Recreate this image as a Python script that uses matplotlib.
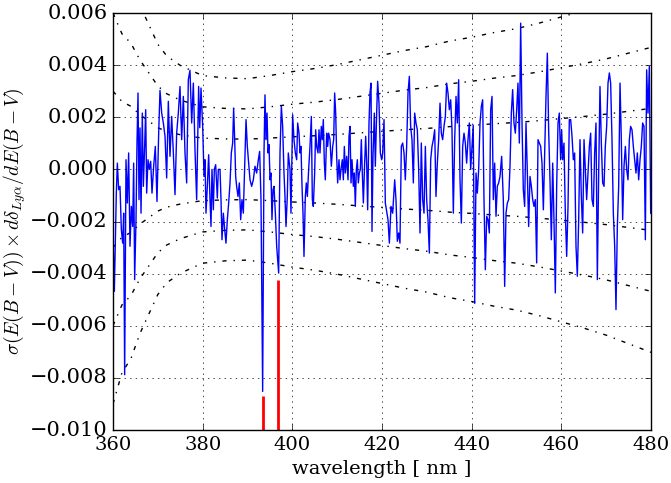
import numpy as np
import matplotlib
matplotlib.use('Agg')
import matplotlib.pyplot as plt

plt.style.use('classic')
plt.rcParams['font.family'] = ['DejaVu Serif']
plt.rcParams['font.size'] = 14

# envelope sigma (in 1e-3), drawn as +-1, 2, 3 sigma
sig_wl = [360, 361, 362, 364, 366, 368, 370, 372, 375, 378, 380, 385, 390, 395,
          400, 405, 410, 415, 420, 425, 430, 435, 440, 445, 450, 455, 460, 465,
          470, 475, 480]
sig_val = [3.00, 2.80, 2.60, 2.42, 2.10, 1.85, 1.60, 1.45, 1.33, 1.25, 1.20, 1.17,
           1.16, 1.20, 1.25, 1.29, 1.34, 1.40, 1.46, 1.52, 1.57, 1.64, 1.69, 1.75,
           1.80, 1.87, 1.95, 2.03, 2.12, 2.23, 2.34]

# sigma(E(B-V)) x d delta / dE(B-V) (in 1e-3)
wl = [360.07, 360.3, 360.74, 360.97, 361.26, 361.56, 361.86, 362.16, 362.38, 362.6,
      362.9, 363.2, 363.49, 363.79, 364.09, 364.39, 364.61, 364.83, 365.13, 365.35,
      365.58, 365.8, 366.02, 366.25, 366.54, 366.77, 367.06, 367.29, 367.51, 367.81,
      368.1, 368.4, 368.7, 369.07, 369.44, 369.81, 370.19, 370.48, 370.86, 371.23,
      371.6, 371.97, 372.34, 372.71, 373.09, 373.46, 373.83, 374.2, 374.57, 374.94,
      375.32, 375.69, 376.06, 376.43, 376.8, 377.17, 377.55, 377.92, 378.29, 378.66,
      379.1, 379.35, 379.63,
      380.0, 380.3, 380.52, 380.74, 381.04, 381.34, 381.64, 381.86, 382.08, 382.38,
      382.6, 382.9, 383.27, 383.49, 383.87, 384.09, 384.31, 384.61, 384.91, 385.2,
      385.5, 385.8, 386.1, 386.39, 386.69, 386.91, 387.14, 387.36, 387.58, 387.88,
      388.18, 388.48, 388.77, 389.07, 389.44, 389.67, 389.96, 390.26, 390.56, 390.93,
      391.3, 391.67, 392.04, 392.42, 392.71, 393.01, 393.38, 393.68, 393.9, 394.13,
      394.35, 394.57, 394.8, 395.02, 395.24, 395.46, 395.69, 395.91, 396.21, 396.51,
      396.95, 397.25, 397.55, 397.84, 398.14, 398.36, 398.59, 398.88, 399.1, 399.48,
      399.7, 400.07, 400.37, 400.67, 400.97, 401.19, 401.49, 401.71, 401.93, 402.16,
      402.38, 402.6, 402.9, 403.12, 403.35, 403.64, 403.94, 404.24, 404.46, 404.68,
      404.98, 405.2, 405.43, 405.72, 405.95, 406.17, 406.47, 406.69, 406.91, 407.14,
      407.36, 407.66, 407.88, 408.1, 408.4, 408.7, 409.0, 409.22, 409.44, 409.67,
      409.89, 410.11, 410.41, 410.63, 410.86, 411.15, 411.38, 411.6, 411.82, 412.12,
      412.42, 412.64, 412.86, 413.09, 413.31, 413.61, 413.83, 414.05, 414.28, 414.5,
      414.72, 414.94, 415.17, 415.39, 415.61, 415.84, 416.13, 416.36, 416.58, 416.8,
      417.1, 417.32, 417.55, 417.77, 417.99, 418.29, 418.51, 418.81, 419.03, 419.33,
      419.63, 419.93,
      420.15, 420.45, 420.74, 421.04, 421.34, 421.64, 422.01, 422.38, 422.83, 423.12,
      423.42, 423.72, 424.01, 424.31, 424.61, 424.91, 425.2, 425.5, 425.8, 426.1,
      426.39, 426.69, 426.99, 427.29, 427.58, 427.88, 428.18, 428.48, 428.77, 429.07,
      429.37, 429.67, 429.96, 430.26, 430.56, 430.86, 431.15, 431.45, 431.75, 432.04,
      432.34, 432.64, 432.94, 433.23, 433.53, 433.83, 434.13, 434.42, 434.72, 435.02,
      435.32, 435.61, 435.91, 436.21, 436.51, 436.8, 437.1, 437.4, 437.7, 437.99,
      438.29, 438.59, 438.88, 439.18, 439.48, 439.78,
      440.35, 440.67, 440.97, 441.26, 441.56, 441.86, 442.16, 442.45, 442.75, 443.05,
      443.35, 443.64, 443.94, 444.24, 444.54, 444.83, 445.13, 445.43, 445.72, 446.02,
      446.32, 446.69, 447.06, 447.36, 447.66, 447.96, 448.25, 448.55, 448.85, 449.14,
      449.44, 449.74, 450.04, 450.33, 450.63, 450.93, 451.23, 451.52, 451.82, 452.12,
      452.42, 452.71, 453.01, 453.31, 453.61, 453.9, 454.2, 454.5, 454.8, 455.09,
      455.39, 455.69, 455.99, 456.28, 456.58, 456.88, 457.17, 457.47, 457.77, 458.07,
      458.36, 458.66, 458.96, 459.26, 459.55, 459.85,
      460.07, 460.3, 460.59, 460.89, 461.19, 461.49, 461.78, 462.08, 462.38, 462.68,
      462.97, 463.27, 463.57, 463.87, 464.16, 464.46, 464.76, 465.06, 465.35, 465.65,
      465.95, 466.25, 466.54, 466.84, 467.14, 467.43, 467.73, 468.03, 468.33, 468.62,
      468.92, 469.22, 469.52, 469.81, 470.11, 470.41, 470.71, 471.0, 471.3, 471.6,
      471.9, 472.19, 472.49, 472.79, 473.09, 473.38, 473.68, 473.98, 474.28, 474.57,
      474.87, 475.17, 475.46, 475.76, 476.06, 476.36, 476.65, 476.95, 477.25, 477.55,
      477.84, 478.14, 478.44, 478.74, 479.03, 479.33, 479.63, 479.93]
dval = [-2.95, -4.68, -0.91, 0.24, -0.78, -0.65, -2.31, -2.83, -1.68, -7.88,
        0.37, -1.29, 0.63, -2.95, -1.42, -2.19, 0.24, -4.23, -1.93, 1.01,
        2.93, -1.16, 1.59, -1.68, 2.16, -0.65, 0.88, 2.29, -0.91, 0.37,
        0.0, 0.31, -0.91, 0.12, 0.88, -1.23, 1.39, 3.03, 2.16, 1.78,
        1.27, -0.33, 2.61, 0.5, 2.03, 0.63, -0.97, 1.39, 2.16, 3.18,
        1.14, 2.8, 0.63, -0.52, 3.44, 3.8, 1.78, 3.31, 0.75, -1.16,
        3.18, 1.6, 3.12,
        1.65, -0.27, 0.37, -1.68, -0.65, 0.56, -1.16, -2.19, 0.0, -1.55,
        0.0, 0.18, -1.1, 0.0, 0.0, -1.16, -2.7, -1.68, -2.31, -2.83,
        -1.93, -1.29, -0.52, 0.63, 1.01, 2.35, 1.14, -0.27, -0.65, -1.04,
        -0.52, -1.93, -1.16, -1.68, 0.5, 1.91, 0.88, 0.24, -0.4, -0.65,
        -0.4, 0.12, -0.14, 0.37, 0.69, -1.16, -8.52, 0.63, 2.86, 1.14,
        2.16, 0.63, 0.95, -0.4, -0.14, -1.93, -0.78, -0.65, -1.68, -2.95,
        -3.98, 0.63, 2.42, 1.65, -0.14, -1.04, -2.19, -1.04, 0.63, 0.0,
        -1.68, 2.1, 1.14, 0.63, 0.37, 1.78, 1.39, 0.63, 0.88, -0.65,
        -1.68, -3.34, -1.04, -0.52, -1.04, 0.0, 0.88, 2.03, -1.16, -1.42,
        -0.14, 1.52, 0.88, 0.63, 1.52, 0.63, 1.65, 1.14, 1.91, 0.24,
        -0.4, 1.39, 0.88, 1.39, 1.14, 0.12, 0.88, 1.14, 2.93, 2.16,
        0.5, -0.52, 0.37, -0.4, 0.0, 0.37, -0.4, 0.88, -0.14, 0.5,
        -0.4, 1.27, 1.65, -0.52, 0.37, -0.65, -0.14, -1.42, 0.0, 0.37,
        -0.52, -0.14, 0.0, 1.14, -0.14, -1.29, 0.24, 1.27, 0.24, -1.55,
        1.78, 2.93, 3.31, -2.38, 0.5, 2.16, 0.12, 2.16, 3.38, 2.54,
        0.63, 0.37,
        0.63, 1.91, -1.29, -1.61, -1.93, -2.83, -1.42, -1.68, -0.4, -1.16,
        -2.76, -2.44, -2.83, 0.88, 1.01, 0.63, -0.4, 0.88, 2.93, 3.57,
        1.65, 1.14, -0.52, 2.16, 1.78, 1.52, 0.0, -2.44, 1.01, -1.16,
        -1.68, 0.88, -1.16, -1.93, -3.21, 0.37, 0.88, 1.14, 1.52, -1.04,
        0.24, 1.14, 2.54, 1.39, 1.14, 1.65, 2.03, 3.31, 2.93, 2.29,
        2.67, 1.52, -1.68, 1.14, 2.8, 1.78, 3.44, -0.4, -2.06, 0.88,
        1.39, 1.01, 0.24, 1.14, 1.78, 0.0,
        1.7, -5.14, -0.14, -0.91, 0.0, 1.78, 2.42, 2.67, -1.16, -3.85,
        -1.8, -1.93, -2.44, 2.29, 2.8, -1.16, 0.24, -1.8, -0.65, -0.52,
        -0.27, 0.5, -1.16, -4.49, -1.68, -1.29, -1.16, 0.12, 2.16, 3.06,
        1.78, 1.39, 2.29, 3.31, 1.01, 5.61, 1.78, -0.78, -1.42, 1.78,
        -0.14, -2.19, -0.27, -0.65, -1.16, -1.42, -1.16, -3.59, 1.14, 1.01,
        0.88, 0.24, -1.55, 0.63, 2.8, 4.46, 1.52, -0.4, -2.7, 0.24,
        -1.93, -4.74, -0.65, 1.78, 2.16, 0.37,
        1.52, 0.37, 1.01, -1.68, -3.34, -1.42, 1.91, 1.91, 1.27, 0.37,
        0.63, -2.95, -4.1, -1.93, 1.14, -1.04, -2.44, 1.14, 0.0, -1.16,
        -0.14, 0.88, 1.39, -1.16, -1.42, 0.63, 1.78, -4.23, -0.14, 3.18,
        1.01, -0.52, -0.65, 0.88, 1.65, 3.31, 3.7, 3.31, 1.14, -1.68,
        -2.95, -5.38, -2.19, -0.65, 3.31, 1.14, -1.93, 0.12, 0.88, 0.0,
        -0.4, 1.14, 1.65, 1.52, 0.88, 0.37, -0.14, 0.63, -0.4, 0.37,
        0.88, 1.78, 1.65, -2.7, 3.82, 2.16, 3.95, -1.68]

# Ca K and H lines
ca_wl = [393.37, 396.85]
ca_top = [-8.7, -4.23]

scale = 1e-3
sig = np.array(sig_val) * scale

fig = plt.figure(figsize=(6.71, 4.83), dpi=100, facecolor='white')
ax = fig.add_axes([113 / 671, 53 / 483, 538 / 671, 417 / 483])

for k in (1, 2, 3):
    ax.plot(sig_wl, k * sig, 'k-.', lw=1)
    ax.plot(sig_wl, -k * sig, 'k-.', lw=1)

ax.plot(wl, np.array(dval) * scale, 'b-', lw=1)
ax.vlines(ca_wl, -0.010, np.array(ca_top) * scale, colors='r', lw=2)

ax.set_xlim(360, 480)
ax.set_ylim(-0.010, 0.006)
ax.grid(True)
ax.tick_params(axis='y', labelsize=15)
ax.set_xlabel('wavelength [ nm ]')
ax.set_ylabel(r'$\sigma(E(B-V))\times d\delta_{Ly\alpha}/dE(B-V)$', labelpad=1)

fig.savefig('out.png', dpi=100, facecolor='white')
